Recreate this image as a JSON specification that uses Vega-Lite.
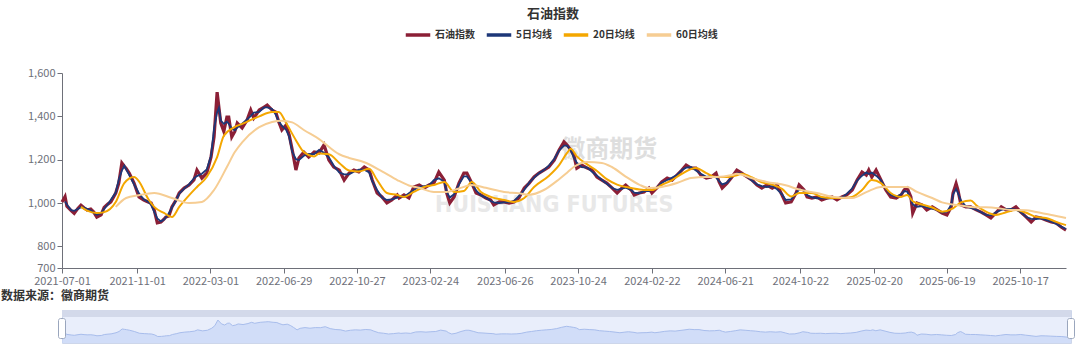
{
  "$schema": "https://vega.github.io/schema/vega-lite/v6.json",
  "background": "white",
  "padding": {"left": 0, "top": 8, "right": 6, "bottom": 0},
  "config": {
    "font": "Noto Sans CJK SC",
    "view": {"stroke": null},
    "axis": {"labelFont": "Noto Sans CJK SC", "labelFontSize": 11, "labelColor": "#6e7079", "domainColor": "#6e7079", "tickColor": "#6e7079", "grid": false, "title": null},
    "axisY": {"labelOverlap": false}
  },
  "title": {"text": "石油指数", "anchor": "middle", "fontSize": 13, "fontWeight": "bold", "color": "#333333", "offset": 0, "dx": 15},
  "resolve": {"scale": {"x": "independent", "y": "independent"}},
  "spacing": 3,
  "datasets": {
    "price": [
      {"date": "2021-07-01", "close": 1005},
      {"date": "2021-07-06", "close": 1030, "ma5": 1007},
      {"date": "2021-07-09", "close": 985, "ma5": 993},
      {"date": "2021-07-16", "close": 965, "ma5": 967},
      {"date": "2021-07-21", "close": 952, "ma5": 964},
      {"date": "2021-07-27", "close": 975, "ma5": 972},
      {"date": "2021-08-01", "close": 990, "ma5": 981},
      {"date": "2021-08-06", "close": 978, "ma5": 979},
      {"date": "2021-08-11", "close": 968, "ma5": 973},
      {"date": "2021-08-17", "close": 972, "ma5": 966},
      {"date": "2021-08-22", "close": 958, "ma5": 955},
      {"date": "2021-08-27", "close": 935, "ma5": 946},
      {"date": "2021-09-03", "close": 945, "ma5": 953},
      {"date": "2021-09-08", "close": 980, "ma5": 973},
      {"date": "2021-09-14", "close": 995, "ma5": 993},
      {"date": "2021-09-19", "close": 1005, "ma5": 1015},
      {"date": "2021-09-27", "close": 1046, "ma5": 1048},
      {"date": "2021-10-02", "close": 1092, "ma5": 1108},
      {"date": "2021-10-07", "close": 1185, "ma5": 1149},
      {"date": "2021-10-11", "close": 1170, "ma5": 1172},
      {"date": "2021-10-14", "close": 1160, "ma5": 1156},
      {"date": "2021-10-19", "close": 1138, "ma5": 1130},
      {"date": "2021-10-27", "close": 1092, "ma5": 1086},
      {"date": "2021-11-04", "close": 1028, "ma5": 1045},
      {"date": "2021-11-12", "close": 1014, "ma5": 1016},
      {"date": "2021-11-19", "close": 1005, "ma5": 1006},
      {"date": "2021-11-24", "close": 1000, "ma5": 991},
      {"date": "2021-11-29", "close": 968, "ma5": 959},
      {"date": "2021-12-04", "close": 908, "ma5": 929},
      {"date": "2021-12-10", "close": 912, "ma5": 915},
      {"date": "2021-12-15", "close": 925, "ma5": 924},
      {"date": "2021-12-18", "close": 935, "ma5": 933},
      {"date": "2021-12-23", "close": 940, "ma5": 952},
      {"date": "2021-12-28", "close": 982, "ma5": 979},
      {"date": "2022-01-04", "close": 1015, "ma5": 1014},
      {"date": "2022-01-09", "close": 1046, "ma5": 1043},
      {"date": "2022-01-17", "close": 1069, "ma5": 1066},
      {"date": "2022-01-25", "close": 1083, "ma5": 1086},
      {"date": "2022-02-02", "close": 1106, "ma5": 1114},
      {"date": "2022-02-07", "close": 1152, "ma5": 1124},
      {"date": "2022-02-15", "close": 1115, "ma5": 1135},
      {"date": "2022-02-23", "close": 1138, "ma5": 1155},
      {"date": "2022-03-02", "close": 1212, "ma5": 1218},
      {"date": "2022-03-07", "close": 1305, "ma5": 1343},
      {"date": "2022-03-12", "close": 1512, "ma5": 1419},
      {"date": "2022-03-15", "close": 1440, "ma5": 1440},
      {"date": "2022-03-18", "close": 1369, "ma5": 1380},
      {"date": "2022-03-23", "close": 1330, "ma5": 1365},
      {"date": "2022-03-28", "close": 1397, "ma5": 1375},
      {"date": "2022-03-31", "close": 1397, "ma5": 1366},
      {"date": "2022-04-05", "close": 1305, "ma5": 1344},
      {"date": "2022-04-10", "close": 1330, "ma5": 1335},
      {"date": "2022-04-14", "close": 1369, "ma5": 1348},
      {"date": "2022-04-22", "close": 1346, "ma5": 1366},
      {"date": "2022-04-30", "close": 1383, "ma5": 1386},
      {"date": "2022-05-06", "close": 1429, "ma5": 1401},
      {"date": "2022-05-11", "close": 1392, "ma5": 1417},
      {"date": "2022-05-20", "close": 1429, "ma5": 1421},
      {"date": "2022-05-28", "close": 1443, "ma5": 1441},
      {"date": "2022-06-02", "close": 1452, "ma5": 1441},
      {"date": "2022-06-10", "close": 1429, "ma5": 1434},
      {"date": "2022-06-16", "close": 1420, "ma5": 1408},
      {"date": "2022-06-21", "close": 1374, "ma5": 1377},
      {"date": "2022-06-26", "close": 1337, "ma5": 1357},
      {"date": "2022-07-03", "close": 1360, "ma5": 1337},
      {"date": "2022-07-08", "close": 1314, "ma5": 1306},
      {"date": "2022-07-13", "close": 1245, "ma5": 1237},
      {"date": "2022-07-19", "close": 1152, "ma5": 1202},
      {"date": "2022-07-24", "close": 1208, "ma5": 1198},
      {"date": "2022-08-01", "close": 1235, "ma5": 1218},
      {"date": "2022-08-09", "close": 1212, "ma5": 1227},
      {"date": "2022-08-18", "close": 1235, "ma5": 1226},
      {"date": "2022-08-26", "close": 1231, "ma5": 1245},
      {"date": "2022-09-03", "close": 1268, "ma5": 1232},
      {"date": "2022-09-11", "close": 1198, "ma5": 1211},
      {"date": "2022-09-19", "close": 1166, "ma5": 1172},
      {"date": "2022-09-28", "close": 1152, "ma5": 1141},
      {"date": "2022-10-06", "close": 1106, "ma5": 1132},
      {"date": "2022-10-14", "close": 1138, "ma5": 1132},
      {"date": "2022-10-22", "close": 1152, "ma5": 1144},
      {"date": "2022-10-30", "close": 1143, "ma5": 1154},
      {"date": "2022-11-08", "close": 1166, "ma5": 1154},
      {"date": "2022-11-16", "close": 1152, "ma5": 1141},
      {"date": "2022-11-21", "close": 1106, "ma5": 1101},
      {"date": "2022-11-29", "close": 1046, "ma5": 1060},
      {"date": "2022-12-07", "close": 1028, "ma5": 1025},
      {"date": "2022-12-15", "close": 1000, "ma5": 1014},
      {"date": "2022-12-23", "close": 1014, "ma5": 1017},
      {"date": "2023-01-01", "close": 1037, "ma5": 1025},
      {"date": "2023-01-04", "close": 1023, "ma5": 1032},
      {"date": "2023-01-12", "close": 1037, "ma5": 1028},
      {"date": "2023-01-20", "close": 1023, "ma5": 1045},
      {"date": "2023-01-28", "close": 1074, "ma5": 1060},
      {"date": "2023-02-06", "close": 1083, "ma5": 1075},
      {"date": "2023-02-14", "close": 1069, "ma5": 1078},
      {"date": "2023-02-22", "close": 1083, "ma5": 1081},
      {"date": "2023-03-02", "close": 1092, "ma5": 1106},
      {"date": "2023-03-10", "close": 1143, "ma5": 1114},
      {"date": "2023-03-19", "close": 1106, "ma5": 1098},
      {"date": "2023-03-23", "close": 1046, "ma5": 1051},
      {"date": "2023-03-28", "close": 1000, "ma5": 1025},
      {"date": "2023-04-04", "close": 1028, "ma5": 1040},
      {"date": "2023-04-12", "close": 1092, "ma5": 1086},
      {"date": "2023-04-20", "close": 1138, "ma5": 1123},
      {"date": "2023-04-25", "close": 1138, "ma5": 1123},
      {"date": "2023-05-03", "close": 1092, "ma5": 1092},
      {"date": "2023-05-10", "close": 1046, "ma5": 1058},
      {"date": "2023-05-18", "close": 1037, "ma5": 1035},
      {"date": "2023-05-26", "close": 1023, "ma5": 1025},
      {"date": "2023-06-03", "close": 1014, "ma5": 1009},
      {"date": "2023-06-08", "close": 991, "ma5": 1003},
      {"date": "2023-06-17", "close": 1005, "ma5": 1000},
      {"date": "2023-06-25", "close": 1005, "ma5": 1003},
      {"date": "2023-07-03", "close": 1000, "ma5": 1003},
      {"date": "2023-07-11", "close": 1005, "ma5": 1009},
      {"date": "2023-07-19", "close": 1023, "ma5": 1032},
      {"date": "2023-07-28", "close": 1069, "ma5": 1061},
      {"date": "2023-08-05", "close": 1092, "ma5": 1094},
      {"date": "2023-08-13", "close": 1120, "ma5": 1117},
      {"date": "2023-08-21", "close": 1138, "ma5": 1137},
      {"date": "2023-08-29", "close": 1152, "ma5": 1152},
      {"date": "2023-09-06", "close": 1166, "ma5": 1172},
      {"date": "2023-09-15", "close": 1198, "ma5": 1203},
      {"date": "2023-09-23", "close": 1245, "ma5": 1242},
      {"date": "2023-10-01", "close": 1282, "ma5": 1265},
      {"date": "2023-10-06", "close": 1268, "ma5": 1265},
      {"date": "2023-10-12", "close": 1245, "ma5": 1245},
      {"date": "2023-10-17", "close": 1222, "ma5": 1209},
      {"date": "2023-10-22", "close": 1161, "ma5": 1186},
      {"date": "2023-10-30", "close": 1175, "ma5": 1166},
      {"date": "2023-11-08", "close": 1161, "ma5": 1163},
      {"date": "2023-11-16", "close": 1152, "ma5": 1144},
      {"date": "2023-11-24", "close": 1120, "ma5": 1126},
      {"date": "2023-12-02", "close": 1106, "ma5": 1106},
      {"date": "2023-12-10", "close": 1092, "ma5": 1089},
      {"date": "2023-12-19", "close": 1069, "ma5": 1069},
      {"date": "2023-12-27", "close": 1046, "ma5": 1061},
      {"date": "2024-01-04", "close": 1069, "ma5": 1066},
      {"date": "2024-01-10", "close": 1083, "ma5": 1071},
      {"date": "2024-01-19", "close": 1060, "ma5": 1060},
      {"date": "2024-01-24", "close": 1037, "ma5": 1048},
      {"date": "2024-02-01", "close": 1046, "ma5": 1045},
      {"date": "2024-02-09", "close": 1051, "ma5": 1055},
      {"date": "2024-02-17", "close": 1069, "ma5": 1055},
      {"date": "2024-02-22", "close": 1046, "ma5": 1061},
      {"date": "2024-03-01", "close": 1069, "ma5": 1071},
      {"date": "2024-03-09", "close": 1097, "ma5": 1094},
      {"date": "2024-03-18", "close": 1115, "ma5": 1106},
      {"date": "2024-03-26", "close": 1106, "ma5": 1117},
      {"date": "2024-04-03", "close": 1129, "ma5": 1129},
      {"date": "2024-04-11", "close": 1152, "ma5": 1152},
      {"date": "2024-04-18", "close": 1175, "ma5": 1163},
      {"date": "2024-04-26", "close": 1161, "ma5": 1166},
      {"date": "2024-05-04", "close": 1161, "ma5": 1150},
      {"date": "2024-05-12", "close": 1129, "ma5": 1135},
      {"date": "2024-05-21", "close": 1115, "ma5": 1121},
      {"date": "2024-05-29", "close": 1120, "ma5": 1124},
      {"date": "2024-06-06", "close": 1138, "ma5": 1118},
      {"date": "2024-06-11", "close": 1097, "ma5": 1101},
      {"date": "2024-06-16", "close": 1069, "ma5": 1086},
      {"date": "2024-06-24", "close": 1092, "ma5": 1094},
      {"date": "2024-07-02", "close": 1120, "ma5": 1121},
      {"date": "2024-07-10", "close": 1152, "ma5": 1137},
      {"date": "2024-07-18", "close": 1138, "ma5": 1137},
      {"date": "2024-07-27", "close": 1120, "ma5": 1121},
      {"date": "2024-08-04", "close": 1106, "ma5": 1103},
      {"date": "2024-08-12", "close": 1083, "ma5": 1086},
      {"date": "2024-08-20", "close": 1069, "ma5": 1078},
      {"date": "2024-08-28", "close": 1083, "ma5": 1074},
      {"date": "2024-09-06", "close": 1069, "ma5": 1078},
      {"date": "2024-09-14", "close": 1083, "ma5": 1063},
      {"date": "2024-09-22", "close": 1037, "ma5": 1040},
      {"date": "2024-09-28", "close": 1000, "ma5": 1014},
      {"date": "2024-10-07", "close": 1005, "ma5": 1017},
      {"date": "2024-10-15", "close": 1046, "ma5": 1045},
      {"date": "2024-10-20", "close": 1083, "ma5": 1063},
      {"date": "2024-10-28", "close": 1060, "ma5": 1057},
      {"date": "2024-11-02", "close": 1028, "ma5": 1037},
      {"date": "2024-11-10", "close": 1023, "ma5": 1026},
      {"date": "2024-11-18", "close": 1028, "ma5": 1022},
      {"date": "2024-11-26", "close": 1014, "ma5": 1022},
      {"date": "2024-12-05", "close": 1023, "ma5": 1022},
      {"date": "2024-12-13", "close": 1028, "ma5": 1022},
      {"date": "2024-12-21", "close": 1014, "ma5": 1023},
      {"date": "2024-12-29", "close": 1028, "ma5": 1026},
      {"date": "2025-01-06", "close": 1037, "ma5": 1042},
      {"date": "2025-01-15", "close": 1060, "ma5": 1068},
      {"date": "2025-01-23", "close": 1106, "ma5": 1103},
      {"date": "2025-01-31", "close": 1143, "ma5": 1126},
      {"date": "2025-02-07", "close": 1129, "ma5": 1141},
      {"date": "2025-02-11", "close": 1152, "ma5": 1134},
      {"date": "2025-02-16", "close": 1120, "ma5": 1141},
      {"date": "2025-02-23", "close": 1152, "ma5": 1126},
      {"date": "2025-03-03", "close": 1106, "ma5": 1106},
      {"date": "2025-03-11", "close": 1060, "ma5": 1065},
      {"date": "2025-03-19", "close": 1028, "ma5": 1037},
      {"date": "2025-03-28", "close": 1023, "ma5": 1029},
      {"date": "2025-04-05", "close": 1037, "ma5": 1040},
      {"date": "2025-04-10", "close": 1060, "ma5": 1055},
      {"date": "2025-04-15", "close": 1069, "ma5": 1052},
      {"date": "2025-04-21", "close": 1028, "ma5": 1017},
      {"date": "2025-04-24", "close": 954, "ma5": 994},
      {"date": "2025-05-01", "close": 1000, "ma5": 982},
      {"date": "2025-05-09", "close": 991, "ma5": 986},
      {"date": "2025-05-17", "close": 968, "ma5": 980},
      {"date": "2025-05-26", "close": 982, "ma5": 973},
      {"date": "2025-06-03", "close": 968, "ma5": 968},
      {"date": "2025-06-11", "close": 954, "ma5": 956},
      {"date": "2025-06-19", "close": 945, "ma5": 960},
      {"date": "2025-06-26", "close": 982, "ma5": 991},
      {"date": "2025-06-29", "close": 1046, "ma5": 1039},
      {"date": "2025-07-04", "close": 1090, "ma5": 1065},
      {"date": "2025-07-07", "close": 1060, "ma5": 1047},
      {"date": "2025-07-12", "close": 991, "ma5": 1011},
      {"date": "2025-07-20", "close": 982, "ma5": 985},
      {"date": "2025-07-28", "close": 982, "ma5": 977},
      {"date": "2025-08-06", "close": 968, "ma5": 969},
      {"date": "2025-08-14", "close": 958, "ma5": 957},
      {"date": "2025-08-22", "close": 945, "ma5": 945},
      {"date": "2025-08-30", "close": 931, "ma5": 943},
      {"date": "2025-09-07", "close": 954, "ma5": 956},
      {"date": "2025-09-16", "close": 982, "ma5": 968},
      {"date": "2025-09-24", "close": 968, "ma5": 973},
      {"date": "2025-10-02", "close": 968, "ma5": 973},
      {"date": "2025-10-10", "close": 982, "ma5": 969},
      {"date": "2025-10-18", "close": 958, "ma5": 958},
      {"date": "2025-10-27", "close": 935, "ma5": 935},
      {"date": "2025-11-04", "close": 912, "ma5": 927},
      {"date": "2025-11-12", "close": 935, "ma5": 926},
      {"date": "2025-11-20", "close": 931, "ma5": 929},
      {"date": "2025-11-28", "close": 922, "ma5": 922},
      {"date": "2025-12-07", "close": 912, "ma5": 914},
      {"date": "2025-12-15", "close": 908, "ma5": 903},
      {"date": "2025-12-23", "close": 889, "ma5": 891},
      {"date": "2025-12-31", "close": 875, "ma5": 880}
    ],
    "ma20": [
      {"date": "2021-08-01", "value": 982}, {"date": "2021-08-11", "value": 965}, {"date": "2021-08-27", "value": 954},
      {"date": "2021-09-08", "value": 958}, {"date": "2021-09-27", "value": 1005}, {"date": "2021-10-11", "value": 1092},
      {"date": "2021-10-27", "value": 1120}, {"date": "2021-11-04", "value": 1100}, {"date": "2021-11-19", "value": 1020},
      {"date": "2021-11-29", "value": 982}, {"date": "2021-12-15", "value": 954}, {"date": "2021-12-28", "value": 935},
      {"date": "2022-01-09", "value": 982}, {"date": "2022-01-25", "value": 1035}, {"date": "2022-02-07", "value": 1074},
      {"date": "2022-02-23", "value": 1120}, {"date": "2022-03-12", "value": 1212}, {"date": "2022-03-23", "value": 1310},
      {"date": "2022-04-10", "value": 1351}, {"date": "2022-04-22", "value": 1365}, {"date": "2022-05-20", "value": 1400},
      {"date": "2022-06-10", "value": 1420}, {"date": "2022-06-21", "value": 1420}, {"date": "2022-07-03", "value": 1369},
      {"date": "2022-07-19", "value": 1290}, {"date": "2022-08-01", "value": 1235}, {"date": "2022-08-18", "value": 1215},
      {"date": "2022-08-26", "value": 1228}, {"date": "2022-09-11", "value": 1225}, {"date": "2022-09-28", "value": 1185},
      {"date": "2022-10-14", "value": 1150}, {"date": "2022-10-30", "value": 1145}, {"date": "2022-11-16", "value": 1158},
      {"date": "2022-11-29", "value": 1106}, {"date": "2022-12-15", "value": 1046}, {"date": "2023-01-01", "value": 1037},
      {"date": "2023-01-12", "value": 1028}, {"date": "2023-01-28", "value": 1051}, {"date": "2023-02-14", "value": 1074},
      {"date": "2023-03-02", "value": 1083}, {"date": "2023-03-19", "value": 1097}, {"date": "2023-04-04", "value": 1051},
      {"date": "2023-04-20", "value": 1055}, {"date": "2023-05-03", "value": 1097}, {"date": "2023-05-18", "value": 1051},
      {"date": "2023-06-03", "value": 1028}, {"date": "2023-06-25", "value": 1014}, {"date": "2023-07-11", "value": 1005},
      {"date": "2023-07-28", "value": 1023}, {"date": "2023-08-13", "value": 1074}, {"date": "2023-09-06", "value": 1125},
      {"date": "2023-09-23", "value": 1175}, {"date": "2023-10-06", "value": 1231}, {"date": "2023-10-12", "value": 1250},
      {"date": "2023-10-22", "value": 1215}, {"date": "2023-11-08", "value": 1178}, {"date": "2023-11-24", "value": 1148},
      {"date": "2023-12-10", "value": 1110}, {"date": "2023-12-27", "value": 1085}, {"date": "2024-01-19", "value": 1069},
      {"date": "2024-02-09", "value": 1060}, {"date": "2024-02-22", "value": 1060}, {"date": "2024-03-09", "value": 1083},
      {"date": "2024-03-26", "value": 1106}, {"date": "2024-04-11", "value": 1135}, {"date": "2024-05-04", "value": 1161},
      {"date": "2024-05-21", "value": 1138}, {"date": "2024-06-06", "value": 1120}, {"date": "2024-06-24", "value": 1120},
      {"date": "2024-07-10", "value": 1128}, {"date": "2024-07-18", "value": 1135}, {"date": "2024-08-04", "value": 1118},
      {"date": "2024-08-20", "value": 1095}, {"date": "2024-09-06", "value": 1085}, {"date": "2024-09-22", "value": 1065},
      {"date": "2024-10-07", "value": 1030}, {"date": "2024-10-20", "value": 1046}, {"date": "2024-11-10", "value": 1046},
      {"date": "2024-11-26", "value": 1028}, {"date": "2024-12-13", "value": 1023}, {"date": "2024-12-29", "value": 1023},
      {"date": "2025-01-15", "value": 1028}, {"date": "2025-01-31", "value": 1060}, {"date": "2025-02-16", "value": 1106},
      {"date": "2025-03-03", "value": 1092}, {"date": "2025-03-19", "value": 1046}, {"date": "2025-04-05", "value": 1028},
      {"date": "2025-04-15", "value": 1037}, {"date": "2025-04-24", "value": 1008}, {"date": "2025-05-09", "value": 993},
      {"date": "2025-05-26", "value": 979}, {"date": "2025-06-11", "value": 960}, {"date": "2025-06-29", "value": 975},
      {"date": "2025-07-12", "value": 1003}, {"date": "2025-07-28", "value": 1012}, {"date": "2025-08-06", "value": 990},
      {"date": "2025-08-22", "value": 960}, {"date": "2025-09-07", "value": 945}, {"date": "2025-09-24", "value": 957},
      {"date": "2025-10-10", "value": 968}, {"date": "2025-10-27", "value": 955}, {"date": "2025-11-12", "value": 936},
      {"date": "2025-11-28", "value": 931}, {"date": "2025-12-15", "value": 913}, {"date": "2025-12-31", "value": 898}
    ],
    "ma60": [
      {"date": "2021-09-27", "value": 982}, {"date": "2021-10-14", "value": 1023}, {"date": "2021-11-04", "value": 1036},
      {"date": "2021-11-29", "value": 1046}, {"date": "2021-12-28", "value": 1023}, {"date": "2022-01-25", "value": 1000},
      {"date": "2022-02-15", "value": 1005}, {"date": "2022-03-07", "value": 1060}, {"date": "2022-03-28", "value": 1166},
      {"date": "2022-04-10", "value": 1235}, {"date": "2022-04-22", "value": 1280}, {"date": "2022-05-20", "value": 1350},
      {"date": "2022-06-10", "value": 1374}, {"date": "2022-06-26", "value": 1380}, {"date": "2022-07-13", "value": 1372},
      {"date": "2022-08-01", "value": 1337}, {"date": "2022-08-26", "value": 1295}, {"date": "2022-09-28", "value": 1225},
      {"date": "2022-10-14", "value": 1208}, {"date": "2022-11-08", "value": 1188}, {"date": "2022-12-07", "value": 1146},
      {"date": "2023-01-01", "value": 1106}, {"date": "2023-01-20", "value": 1081}, {"date": "2023-02-06", "value": 1070},
      {"date": "2023-03-02", "value": 1051}, {"date": "2023-03-23", "value": 1051}, {"date": "2023-04-12", "value": 1067},
      {"date": "2023-05-03", "value": 1083}, {"date": "2023-05-26", "value": 1070}, {"date": "2023-06-25", "value": 1051},
      {"date": "2023-07-19", "value": 1045}, {"date": "2023-08-05", "value": 1038}, {"date": "2023-08-29", "value": 1060},
      {"date": "2023-09-23", "value": 1110}, {"date": "2023-10-06", "value": 1140}, {"date": "2023-10-17", "value": 1166},
      {"date": "2023-11-08", "value": 1189}, {"date": "2023-12-02", "value": 1185}, {"date": "2023-12-19", "value": 1165},
      {"date": "2024-01-10", "value": 1122}, {"date": "2024-02-01", "value": 1085}, {"date": "2024-02-17", "value": 1069},
      {"date": "2024-03-09", "value": 1074}, {"date": "2024-04-03", "value": 1092}, {"date": "2024-04-26", "value": 1115},
      {"date": "2024-05-21", "value": 1120}, {"date": "2024-06-06", "value": 1120}, {"date": "2024-07-02", "value": 1129},
      {"date": "2024-07-10", "value": 1135}, {"date": "2024-08-04", "value": 1114}, {"date": "2024-08-28", "value": 1097},
      {"date": "2024-09-28", "value": 1082}, {"date": "2024-10-20", "value": 1062}, {"date": "2024-11-18", "value": 1046},
      {"date": "2024-12-13", "value": 1029}, {"date": "2025-01-15", "value": 1023}, {"date": "2025-02-07", "value": 1050},
      {"date": "2025-03-03", "value": 1074}, {"date": "2025-03-28", "value": 1074}, {"date": "2025-04-15", "value": 1074},
      {"date": "2025-05-01", "value": 1051}, {"date": "2025-05-26", "value": 1023}, {"date": "2025-06-11", "value": 1003},
      {"date": "2025-07-04", "value": 991}, {"date": "2025-07-28", "value": 982}, {"date": "2025-08-22", "value": 980},
      {"date": "2025-09-07", "value": 977}, {"date": "2025-10-02", "value": 968}, {"date": "2025-10-27", "value": 967},
      {"date": "2025-11-12", "value": 958}, {"date": "2025-12-07", "value": 945}, {"date": "2025-12-31", "value": 931}
    ],
    "marks": [
      {"label": "徽商期货", "date": "2023-12-14", "level": 1245},
      {"label": "HUISHANG FUTURES", "date": "2023-09-15", "level": 991}
    ]
  },
  "vconcat": [
    {
      "width": 1004,
      "height": 195,
      "encoding": {
        "x": {
          "field": "date", "type": "temporal",
          "scale": {"type": "utc", "domain": [{"year": 2021, "month": 7, "date": 1, "utc": true}, {"year": 2025, "month": 12, "date": 31, "utc": true}], "nice": false},
          "axis": {
            "format": "%Y-%m-%d", "labelOverlap": false, "labelFlush": false, "tickSize": 5, "labelPadding": 2,
            "values": [
              {"year": 2021, "month": 7, "date": 1, "utc": true}, {"year": 2021, "month": 11, "date": 1, "utc": true},
              {"year": 2022, "month": 3, "date": 1, "utc": true}, {"year": 2022, "month": 6, "date": 29, "utc": true},
              {"year": 2022, "month": 10, "date": 27, "utc": true}, {"year": 2023, "month": 2, "date": 24, "utc": true},
              {"year": 2023, "month": 6, "date": 26, "utc": true}, {"year": 2023, "month": 10, "date": 24, "utc": true},
              {"year": 2024, "month": 2, "date": 22, "utc": true}, {"year": 2024, "month": 6, "date": 21, "utc": true},
              {"year": 2024, "month": 10, "date": 22, "utc": true}, {"year": 2025, "month": 2, "date": 20, "utc": true},
              {"year": 2025, "month": 6, "date": 19, "utc": true}, {"year": 2025, "month": 10, "date": 17, "utc": true}
            ]
          }
        },
        "y": {
          "type": "quantitative",
          "scale": {"domain": [700, 1600], "nice": false, "zero": false},
          "axis": {"values": [700, 800, 1000, 1200, 1400, 1600], "format": ",d", "tickSize": 5, "labelPadding": 2, "labelOverlap": false}
        }
      },
      "layer": [
        {
          "data": {"name": "marks"},
          "transform": [{"filter": "datum.label === '徽商期货'"}],
          "mark": {"type": "text", "font": "Noto Sans CJK SC", "fontSize": 24, "fontWeight": "bold", "color": "#dedede"},
          "encoding": {"y": {"field": "level", "type": "quantitative"}, "text": {"field": "label"}}
        },
        {
          "data": {"name": "marks"},
          "transform": [{"filter": "datum.label === 'HUISHANG FUTURES'"}],
          "mark": {"type": "text", "font": "DejaVu Sans Condensed", "fontSize": 23, "fontWeight": "bold", "color": "#e8e8e8"},
          "encoding": {"y": {"field": "level", "type": "quantitative"}, "text": {"field": "label"}}
        },
        {
          "data": {"name": "price"},
          "mark": {"type": "line", "strokeWidth": 3.2, "strokeJoin": "miter"},
          "encoding": {
            "y": {"field": "close", "type": "quantitative"},
            "color": {
              "datum": "石油指数", "type": "nominal",
              "scale": {"domain": ["石油指数", "5日均线", "20日均线", "60日均线"], "range": ["#8b1f36", "#1d3778", "#f4a700", "#f6cd93"]},
              "legend": {
                "orient": "none", "direction": "horizontal", "legendX": 342, "legendY": -52,
                "title": null, "symbolType": "stroke", "symbolStrokeWidth": 3.5, "symbolSize": 600,
                "labelFontSize": 10, "labelFontWeight": "bold", "labelColor": "#333333", "labelOffset": 3, "columnPadding": 4
              }
            }
          }
        },
        {
          "data": {"name": "price"},
          "mark": {"type": "line", "strokeWidth": 1.8},
          "encoding": {"y": {"field": "ma5", "type": "quantitative"}, "color": {"datum": "5日均线", "type": "nominal"}}
        },
        {
          "data": {"name": "ma20"},
          "mark": {"type": "line", "strokeWidth": 2, "interpolate": "monotone"},
          "encoding": {"y": {"field": "value", "type": "quantitative"}, "color": {"datum": "20日均线", "type": "nominal"}}
        },
        {
          "data": {"name": "ma60"},
          "mark": {"type": "line", "strokeWidth": 2, "interpolate": "monotone"},
          "encoding": {"y": {"field": "value", "type": "quantitative"}, "color": {"datum": "60日均线", "type": "nominal"}}
        }
      ]
    },
    {
      "width": 1009,
      "height": 33,
      "title": {"text": "数据来源：徽商期货", "anchor": "start", "dx": -57, "fontSize": 12, "fontWeight": "bold", "color": "#333333", "offset": 7},
      "view": {"fill": "#e9eefb", "stroke": "#cdd6ea"},
      "encoding": {
        "x": {"field": "date", "type": "temporal", "axis": null,
          "scale": {"type": "utc", "domain": [{"year": 2021, "month": 7, "date": 1, "utc": true}, {"year": 2025, "month": 12, "date": 31, "utc": true}], "nice": false}},
        "y": {"type": "quantitative", "scale": {"domain": [670, 1880], "nice": false, "zero": false}, "axis": null}
      },
      "layer": [
        {
          "data": {"values": [{"top": 1880, "bottom": 1622}]},
          "mark": {"type": "rect", "color": "#d3d9ea"},
          "encoding": {
            "x": {"value": 0},
            "x2": {"value": "width"},
            "y": {"field": "bottom", "type": "quantitative"},
            "y2": {"field": "top"}
          }
        },
        {
          "data": {"name": "price"},
          "mark": {"type": "area", "color": "#c6d6f6", "line": {"color": "#a8bdec", "strokeWidth": 1}},
          "encoding": {"y": {"field": "close", "type": "quantitative"}, "y2": {"datum": 670}}
        },
        {
          "data": {"name": "price"},
          "transform": [{"filter": "utcFormat(toDate(datum.date), '%Y-%m-%d') === '2021-07-01' || utcFormat(toDate(datum.date), '%Y-%m-%d') === '2025-12-31'"}],
          "mark": {"type": "tick", "orient": "vertical", "thickness": 7, "size": 20, "color": "white", "stroke": "#9aa6bd", "strokeWidth": 1, "cornerRadius": 2, "opacity": 1},
          "encoding": {"y": {"datum": 1200, "type": "quantitative"}}
        }
      ]
    }
  ]
}
